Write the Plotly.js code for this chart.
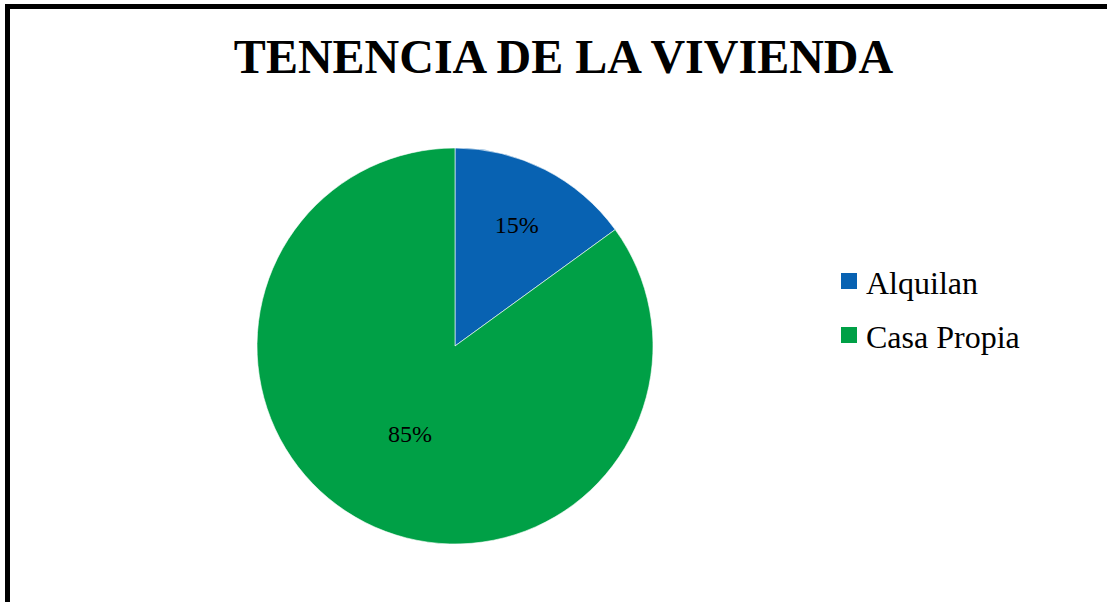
<!DOCTYPE html>
<html>
<head>
<meta charset="utf-8">
<script src="https://cdn.plot.ly/plotly-3.0.1.min.js"></script>
<style>
  html, body { margin: 0; padding: 0; background: #ffffff; overflow: hidden; }
  #wrap { position: relative; width: 1107px; height: 602px; }
  #chart { position: absolute; left: 0; top: 0; width: 1107px; height: 602px; }
  #frame { position: absolute; left: 5px; top: 4px; width: 1200px; height: 700px;
           border-left: 5px solid #000; border-top: 5px solid #000; pointer-events: none; }
</style>
</head>
<body>
<div id="wrap">
  <div id="chart"></div>
  <div id="frame"></div>
</div>
<script>
const titleText = "TENENCIA DE LA VIVIENDA";
const categories = ["Alquilan", "Casa Propia"];
const shares = [15, 85];
const sliceColors = ["#0862b2", "#00a046"];

const W = 1107, H = 602;
const cx = 455, cy = 346, R = 198;

const trace = {
  type: "pie",
  labels: categories,
  values: shares,
  sort: false,
  direction: "clockwise",
  rotation: 0,
  marker: { colors: sliceColors, line: { color: "#ffffff", width: 0.6 } },
  textinfo: "percent",
  texttemplate: "%{percent:.0%}",
  textposition: "inside",
  insidetextorientation: "horizontal",
  textfont: { family: "Liberation Serif, Times New Roman, serif", size: 24, color: "#000000" },
  hoverinfo: "label+percent",
  showlegend: false,
  domain: {
    x: [(cx - R) / W, (cx + R) / W],
    y: [(H - cy - R) / H, (H - cy + R) / H]
  }
};

// Legend built from the category names and slice colours
const legendX = 864, legendY0 = 283, legendStep = 54;
const annotations = categories.map((c, i) => ({
  text: c,
  xref: "paper", yref: "paper",
  x: legendX / W, y: 1 - (legendY0 + i * legendStep) / H,
  xanchor: "left", yanchor: "middle",
  showarrow: false,
  font: { family: "Liberation Serif, Times New Roman, serif", size: 32, color: "#000000" }
}));
const shapes = categories.map((c, i) => {
  const yc = 281 + i * legendStep;
  return {
    type: "rect", xref: "paper", yref: "paper",
    x0: 841 / W, x1: 857 / W,
    y0: 1 - (yc - 8) / H, y1: 1 - (yc + 8) / H,
    fillcolor: sliceColors[i], line: { width: 0 }
  };
});

const layout = {
  width: W, height: H,
  margin: { l: 0, r: 0, t: 0, b: 0 },
  paper_bgcolor: "#ffffff",
  plot_bgcolor: "#ffffff",
  showlegend: false,
  title: {
    text: "<b>" + titleText + "</b>",
    x: 563.5 / W, xanchor: "center",
    y: 1 - 56 / H, yanchor: "middle",
    xref: "paper", yref: "paper",
    font: { family: "Liberation Serif, Times New Roman, serif", size: 48, color: "#000000" }
  },
  annotations: annotations,
  shapes: shapes
};

Plotly.newPlot("chart", [trace], layout, { displayModeBar: false, staticPlot: true });
</script>
</body>
</html>
